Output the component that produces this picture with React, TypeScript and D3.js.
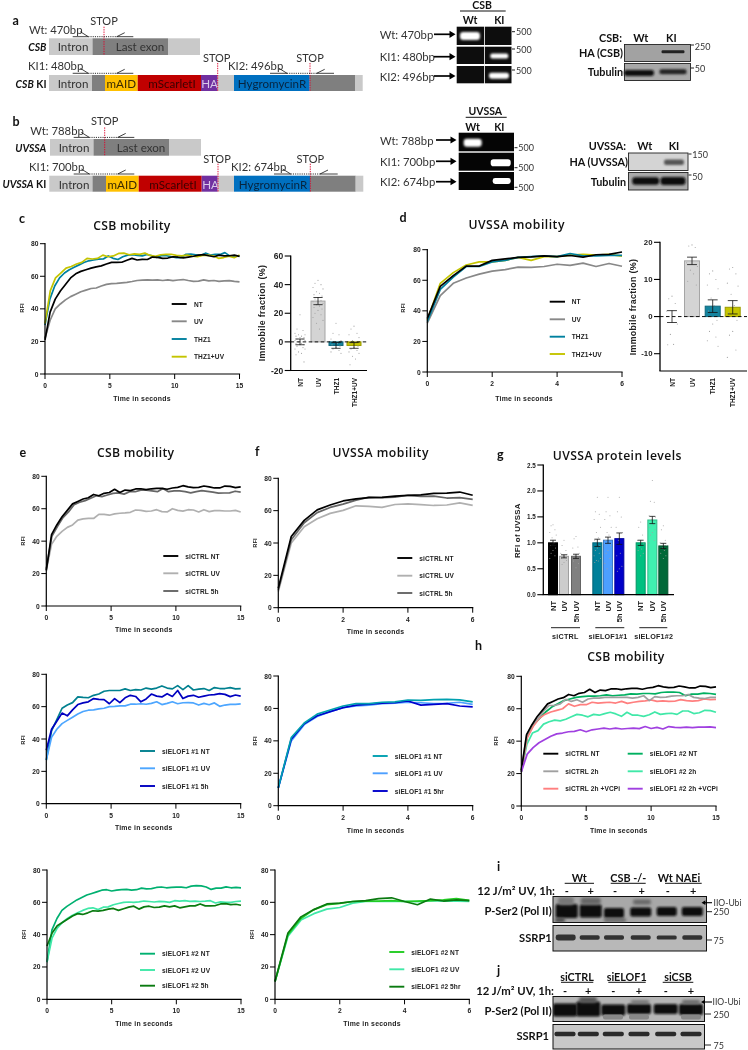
import React from 'react';
import * as d3 from 'd3';

const SANS = '"Liberation Sans", Arial, sans-serif';
const CAL = 'Lato, "Open Sans", sans-serif';

// ---------- panel c
const cNT = [21,38,46,51,55,59,61.5,63,64,65,65.8,66.4,67.5,68.5,68.5,68.6,69.8,71,70,70.4,70.3,71.8,71.6,71,71.2,72,71.7,71.3,71.8,72.3,73,73.3,72.6,72,73,72.5,72.6,73,72.2];
const cUV = [22,33,40,43,45.5,47.5,49,50.5,51.5,52.5,52.8,54,55,55.5,55.7,56,56.3,56.8,57.4,57.6,57.8,57.6,57.8,57.4,57.8,57.3,57.7,58,57.4,56.9,57,57.8,57.2,57.4,56.9,57.2,57.3,56.9,56.6];
const cTHZ = [30,46,54,59,62,64,65.5,67,68.5,69.5,70,70.5,70.6,72.5,71,70.3,72,73,73.2,72.8,72.5,73.4,72.5,71.5,72.8,72.6,72,71.5,71.5,73.5,73.6,73.2,72.8,74.2,73,73.5,73.4,74.5,72.5,72.6,72.4];
const cTU = [31,51,59,62,65,66,67.5,68.5,71,70.6,71,73,72,72.5,74,74.2,73.2,73.8,73.4,74.2,72.8,72.2,73.2,73.4,73.5,72.8,72.5,73,72.4,72,72.8,73,72.6,71,71.5,72.4,71.4,73];
// ---------- panel d
const dNT = [35,56,63,69.3,69.3,73,74,75,75.3,76,75.5,76.2,75.2,76.7,76.9,78.5];
const dUV = [32,50,58,61.5,64,66,67,68.6,68.4,69,70.5,69.7,71.2,69,71,69.2];
const dTHZ = [33,54,62,69,69,72,73,75,75.5,76,75.5,77.5,76,76,76.3,76.3];
const dTU = [34,58,65,70,72,72,73,75,73,75.5,75.5,76.5,77,76.5,77,75.8];
// ---------- panel e
const e1NT = [22,44,50,55,59,63,64.5,66,66.8,68.8,68,69.5,70,72,70,71.5,71.2,72.2,72.3,71.8,72.3,72.5,72.6,72,72.8,73.2,74.2,73.5,73,73.2,74,73.5,72.8,72.8,74,73.8,73,73.5];
const e1UV = [22,38,43,46,48.5,50,53,53.7,54,54,56.5,56.5,56,56.8,57.2,57.4,57.8,59.2,59,58.4,58.6,59.4,58.2,58,60,59,58.5,59.4,59.2,58,59.4,58.2,58.8,58.8,58.6,58.6,59,58];
const e15h = [23,43,49,54.5,58,62.5,64,65,66.5,68,67.5,68.5,69.5,69.8,69,70.5,70.5,71.5,71.5,71,70.5,72.5,70.5,71,71,70.5,69.8,70.5,71.2,70.7,70.2,69.6,69.7,69.8,70.8,70.2];
const e2NT = [27,45,52,59,61,62.5,66,65.7,65.5,67,67.8,69.5,70,70,70,71,70,70.5,70.3,71.5,70.8,71.5,72.8,71.5,71,73,70.5,73,70.3,70.8,71.2,70,71.8,71.2,71.2,71.8,71,71.2];
const e2UV = [27,41,46,49.5,51.5,53.5,55.5,57,57.8,58,58.6,59,60,60.2,60.5,60.5,61.5,61.5,61.8,61.5,62,63,61.3,62,63,61.8,62.4,62.5,62.3,61,62,61.2,62.3,60.2,61,61.4,61.4,61.7];
const e25h = [33,46,51,56,54.3,58,61.3,62.3,63,65,64.5,64.3,61.8,65,62.5,65.5,67,66.3,63,64.8,67.8,66.5,66,68,66.3,70,65,66.5,67,65.8,66.5,67.2,67.4,68,67.6,66.2,67.2,66.5];
const e3NT = [23,43,50,55,57.5,59.5,61.5,63,64.5,65.5,66.5,67.5,67.8,67,67.5,67.8,68,67.6,67.8,68.8,68.3,68.5,69.2,69.5,69,69.2,69.4,69.4,69,70,70.3,70.2,69.5,68,68.8,68.8,69.6,69,69.2,68.9];
const e3UV = [23,38,44,47.5,50,52,53.5,55,56.2,56.6,55.5,57,57.2,58.5,59.3,60,60.2,60,60.3,60.8,60.5,60.2,60.6,60.4,60,61,60.8,61,60.6,60.8,60.5,60.7,61,59.6,60.3,60,60,60.5,60.8];
const e35h = [33,41,45.5,47.5,49.5,51.5,53,52.5,53.5,54.8,54.6,55,55.8,56.2,55,56,57,57.6,55.8,57.2,57.6,56.8,57,57.8,57.2,57.8,56.6,57.2,57.8,57.8,59,57.8,57.8,58,59,59.2,58.6,58.8,58.2];
// ---------- panel f
const f1NT = [12,44,54,60.5,63.5,66,67.3,68,68.2,69,69.5,69.8,70.7,70.8,71.5,69.5];
const f1UV = [10,40,50,55,58.3,60.2,63,62.7,62,63.8,64.2,63.7,63.2,63.5,64.8,63.3];
const f15h = [11,42,52.5,58.8,62,64,66.5,68.4,68,68.3,69.5,68.8,69,67.8,68,67];
const f2NT = [11,42,51,56.5,59,61.5,63,63,63.8,64,65.2,65,65.4,65.6,65.3,64];
const f2UV = [11,40,50,55,58,60.5,61.5,62,63,63.2,63.8,63.5,63,63.2,63.8,62.5];
const f25h = [11,41,50.5,55.5,58,60.5,62,62.7,63.3,63.5,64.6,62,62.5,63,61.5,61];
const f3NT = [11,40,50,55.5,58.5,59.3,60.5,60.8,60.7,61,60.5,60.8,61,61.5,62.3,61.2];
const f3UV = [11,39,49,53,55.8,56.8,59.5,60.5,60.5,60.6,60.6,60.4,61,60.8,60.8,60.5];
const f35h = [11,41,51,55.5,59,59.5,60.5,61,62.3,62.8,60.5,58.5,62,60.8,61.5,61];
// ---------- panel h
const h2h = [22,44,50,54,58.5,62,62,63,65.8,64.5,65.5,64,66,66.5,66.5,67,67,67,67,67,66.5,67,68,65,67.5,67,67.2,67.8,68,68,68.8,67,66.5,66.3,67,67];
const hVCP = [21,42,49,54,56.5,58,59,60,63,61.5,62.5,62.5,64,63.5,63.8,64,63.5,64.5,63.3,64,64.5,64.8,65.5,64.5,64.8,64.5,64.6,65.6,65,64.7,65,66,65.6,65.8];
const hE2NT = [21,43,50,54,58,61,63,65,66,67,67.5,67.8,67.8,68,68.5,68,68.3,68.5,69.2,69,69.4,69.4,69.2,70,70.3,70.3,70,68,69,69,69.6,69.4,68.8];
const hE22h = [21,38,45,46.5,50.5,52,53,52.5,53.5,55,56.5,56,55,56.5,56,57,57.8,56.8,55.3,57.8,56,56,55.3,56.3,58,56.5,57,57.2,56.5,58.6,58.6,57,57.5,59,58.8,57.8];
const hE2VCP = [21,32,36,39,41,43,44.5,45,45.8,46,47,45.8,47,47.5,48,47.5,48,47.5,47.8,48,47.7,49,47.8,48.5,47.5,49,48.5,48.4,48.6,48.4,48.6,48.7,48.8,48.4];

// ---------- bar panels
const cBarNames = ['NT','UV','THZ1','THZ1+UV'];
const cBarMeans = [0,28.5,-2.5,-2.5];
const cBarSem = [2,2.5,2,2];
const cBarFill = ['#d8d8d8','#d4d4d4','#14849f','#c6c600'];
const cDots = [
  [19,9,8,6,5,5,4,4,3,3,2,2,1,1,0,-1,-1,-2,-2,-3,-4,-5,-5,-7,-8,-9,-14],
  [43,41,40,38,37,35,34,33,32,31,30,29,28,27,26,25,24,23,22,20,19,17,15,13,9],
  [13,6,5,2,1,0,-1,-2,-3,-4,-5,-6,-7,-8,-20],
  [11,9,6,5,3,1,0,-1,-3,-4,-5,-6,-7,-8,-10,-12,-16],
];
const dBarMeans = [0,15,2.8,2.5];
const dBarSem = [1.6,1,1.7,1.8];
const dBarFill = ['#fff','#d4d4d4','#14849f','#c6c600'];
const dDots = [
  [5.5,4.8,3.5,1.5,-2,-4.8,-7.5,-7.6],
  [19.3,19,18.6,14.5,13.5,12.5,11.5,9.5,8.5],
  [12.3,11.5,10,8.5,7.5,5,3,1.5,-1,-2,-4,-5.5,-6.5,-8],
  [13.2,12.8,11.5,9,8.2,6,3,1,-1,-4,-5,-9,-11],
];
const gNames = ['NT','UV','5h UV','NT','UV','5h UV','NT','UV','5h UV'];
const gMeans = [1,0.74,0.74,1,1.05,1.08,1,1.44,0.94];
const gSem = [0.05,0.03,0.04,0.07,0.06,0.11,0.05,0.07,0.05];
const gFill = ['#000','#cccccc','#808080','#00809a','#4d9fff','#0000c8','#00c080','#40f0b0','#006838'];
const gDots = [
  [1.35,1.33,1.25,1.2,1.15,1.1,1,0.95,0.9,0.85,0.8,0.75,0.7],
  [1.05,0.95,0.85,0.8,0.78,0.75,0.72,0.7,0.66,0.62,0.58],
  [1.12,1.08,0.92,0.9,0.8,0.75,0.72,0.65,0.6,0.52],
  [1.88,1.6,1.55,1.45,1.3,1.2,1.1,1.05,0.95,0.9,0.85,0.8,0.75,0.7,0.66,0.65,0.62],
  [1.88,1.6,1.52,1.45,1.3,1.2,1.15,1.05,0.95,0.85,0.8,0.7,0.6,0.55,0.5],
  [1.88,1.6,1.5,1.3,1.2,1.05,0.8,0.75,0.55,0.5,0.45],
  [1.4,1.3,1.15,1.05,0.98,0.92,0.88,0.85,0.8,0.75],
  [2.2,1.8,1.78,1.52,1.5,1.45,1.35,1.3,1.25,1.2,1.15,1.05,1],
  [1.33,1.25,1.05,1,0.95,0.9,0.85,0.8,0.75,0.7],
];

// ---------- schematic
const rowSegs = ['#c9c9c9','#7f7f7f','#ffc000','#c00000','#7030a0','#c9c9c9','#0070c0','#7f7f7f','#c9c9c9'];
const aEdges = [49,92,105,137.7,201,217.6,234,309.7,355,362.7];
const bEdges = [49.3,92.5,106,138.7,201.7,217.7,234,310,355.7,363.3];

const Txt = ({x,y,t,s=7,w='bold',a='start',f=SANS,c='#000',i,ls,rot}:any) => (
  <text x={x} y={y} fontSize={s} fontWeight={w} textAnchor={a} fontFamily={f} fill={c} dominantBaseline="central"
    fontStyle={i?'italic':undefined} letterSpacing={ls} transform={rot?`rotate(${rot} ${x} ${y})`:undefined}>{t}</text>
);

const LineChart = ({x0,x1,y80,y0,xMax,xTicks,series,legend,lx,ly,tx,ty,rx,ry}:any) => {
  const x = d3.scaleLinear().domain([0,xMax]).range([x0,x1]);
  const y = d3.scaleLinear().domain([0,80]).range([y0,y80]);
  return (
    <g>
      {series.map((s:any,i:number)=>{
        const line = d3.line<number>().x((_,k)=>x(k*xMax/(s.v.length-1))).y(d=>y(d));
        return <path key={i} d={line(s.v)!} fill="none" stroke={s.c} strokeWidth={1.7} strokeLinejoin="round"/>;
      })}
      <line x1={x0} x2={x0} y1={y80-0.6} y2={y0} stroke="#000" strokeWidth={1.2}/>
      <line x1={x0-0.6} x2={x1+0.6} y1={y0} y2={y0} stroke="#000" strokeWidth={1.2}/>
      {y.ticks(4).map(t=>(
        <g key={t}>
          <line x1={x0-5} x2={x0} y1={y(t)} y2={y(t)} stroke="#000" strokeWidth={1}/>
          <Txt x={x0-6.5} y={y(t)} t={t} s={6.7} a="end" c="#222"/>
        </g>
      ))}
      {xTicks.map((t:number)=>(
        <g key={t}>
          <line x1={x(t)} x2={x(t)} y1={y0} y2={y0+5} stroke="#000" strokeWidth={1}/>
          <Txt x={x(t)} y={y0+11.5} t={t} s={6.7} a="middle" c="#222"/>
        </g>
      ))}
      <Txt x={tx} y={ty} t="Time in seconds" s={6.9} a="middle" c="#222" ls={0.25}/>
      <Txt x={rx} y={ry} t="RFI" s={5.8} a="middle" c="#222" rot={-90}/>
      {legend.map((l:any,i:number)=>(
        <g key={i}>
          <line x1={l.lx??lx} x2={(l.lx??lx)+15} y1={l.y} y2={l.y} stroke={series[i].c} strokeWidth={1.9}/>
          <Txt x={(l.lx??lx)+22} y={l.y} t={l.t} s={6.55} c="#222" ls={0.12}/>
        </g>
      ))}
    </g>
  );
};

const jit = [0,-3,3,-5,5,-1.5,1.5,-4,4];

const BarPanel = ({ax,y,ticks,bottom,xs,w,means,sem,fill,dots,right,ylab,ylabX,ylabY,ylabS,dash,fmt,lblS=8.5,dotR=0.55,bw=1}:any) => (
  <g>
    {means.map((m:number,i:number)=>(
      <rect key={i} x={xs[i]-w/2} y={Math.min(y(m),y(0))} width={w} height={Math.abs(y(m)-y(0))} fill={fill[i]} stroke={fill[i]==='#000'?'#000':d3.color(fill[i])!.darker(0.7).formatHex()} strokeWidth={bw}/>
    ))}
    {dots.map((d:number[],i:number)=>d.map((v,k)=>(
      <circle key={`${i}-${k}`} cx={xs[i]+jit[k%jit.length]*(w/14)} cy={y(v)} r={dotR} fill="#a0a0a0"/>
    )))}
    {means.map((m:number,i:number)=>(
      <g key={i} stroke="#111" strokeWidth={0.8}>
        <line x1={xs[i]} x2={xs[i]} y1={y(m+sem[i])} y2={y(m-sem[i])}/>
        <line x1={xs[i]-w*0.33} x2={xs[i]+w*0.33} y1={y(m+sem[i])} y2={y(m+sem[i])}/>
        <line x1={xs[i]-w*0.33} x2={xs[i]+w*0.33} y1={y(m-sem[i])} y2={y(m-sem[i])}/>
      </g>
    ))}
    {dash && <line x1={ax} x2={right} y1={y(0)} y2={y(0)} stroke="#111" strokeWidth={1} strokeDasharray="3.5 2.5"/>}
    <line x1={ax} x2={ax} y1={y(ticks[ticks.length-1])-0.6} y2={bottom} stroke="#000" strokeWidth={1.3}/>
    <line x1={ax-0.6} x2={right} y1={bottom} y2={bottom} stroke="#000" strokeWidth={1.2}/>
    {ticks.map((t:number)=>(
      <g key={t}>
        <line x1={ax-6} x2={ax} y1={y(t)} y2={y(t)} stroke="#000" strokeWidth={1.1}/>
        <Txt x={ax-7.5} y={y(t)} t={fmt?fmt(t):t} s={lblS} a="end" c="#222"/>
      </g>
    ))}
    <Txt x={ylabX} y={ylabY} t={ylab} s={ylabS} a="middle" c="#222" rot={-90} ls={0.3}/>
  </g>
);

const Primer = ({x1,x2,x3,x4,y}:any) => (
  <g stroke="#111" fill="none">
    <line x1={x1} x2={x2} y1={y} y2={y} strokeWidth={0.8}/>
    <line x1={x2} x2={x2-8} y1={y} y2={y-5} strokeWidth={0.8}/>
    <line x1={x2} x2={x3} y1={y} y2={y} strokeWidth={0.9} strokeDasharray="1.1 1.1"/>
    <line x1={x3} x2={x4} y1={y} y2={y} strokeWidth={0.8}/>
    <line x1={x3} x2={x3+8} y1={y} y2={y-4} strokeWidth={0.8}/>
  </g>
);
const Stop = ({x,y1,y2}:any)=><line x1={x} x2={x} y1={y1} y2={y2} stroke="#e0002a" strokeWidth={0.9} strokeDasharray="1.4 1"/>;
const C = (p:any)=><Txt f={CAL} w="normal" s={11.6} c="#333" {...p}/>;

const Schematic = ({dy,dx,edges,wt,wtx,kin,kinx,kin2,kin2x,name,namex,kiname,r2y,stop1,stopHA,stopH,p2}:any)=>{
  const y1 = 38.3+dy, y2 = r2y;
  return (
    <g>
      <rect x={49+dx} y={y1} width={43.5} height={16.7} fill="#c9c9c9"/>
      <rect x={92.5+dx} y={y1} width={75.5} height={16.7} fill="#7f7f7f"/>
      <rect x={168+dx} y={y1} width={32} height={16.7} fill="#c9c9c9"/>
      {rowSegs.map((c,i)=><rect key={i} x={edges[i]} y={y2} width={edges[i+1]-edges[i]} height={16} fill={c}/>)}
      <C x={73+dx} y={y1+8.5} t="Intron" a="middle"/>
      <C x={140+dx} y={y1+8.5} t="Last exon" a="middle"/>
      <C x={73+dx} y={y2+8.5} t="Intron" a="middle"/>
      <C x={121.3+dx} y={y2+8.5} t="mAID" a="middle" c="#3a2a00"/>
      <C x={172+dx} y={y2+8.5} t="mScarletI" a="middle" c="#3a0000"/>
      <C x={209.5+dx} y={y2+8.5} t="HA" a="middle" c="#d8c8e8"/>
      <C x={272+dx} y={y2+8.5} t="HygromycinR" a="middle" c="#06243f"/>
      <Stop x={stop1} y1={26.7+dy} y2={y1+16.7}/>
      <Stop x={stopHA} y1={y2-12} y2={y2+16}/>
      <Stop x={stopH} y1={y2-12} y2={y2+16}/>
      <C x={stop1} y={20+dy} t="STOP" a="middle" s={11}/>
      <C x={stopHA-1} y={y2-17.5} t="STOP" a="middle" s={11}/>
      <C x={stopH} y={y2-17.5} t="STOP" a="middle" s={11}/>
      <C x={wtx} y={29.3+dy} t={wt} s={11.3}/>
      <C x={kinx} y={y2-9.3} t={kin} s={11.3}/>
      <C x={kin2x} y={y2-9.3} t={kin2} s={11.3}/>
      <Txt x={namex} y={y1+8.7} t={name} s={10.4} f={CAL} a="end" i c="#111"/>
      <g>
        <text x={namex} y={y2+8.7} fontFamily={CAL} fontSize={10.4} fontWeight="bold" textAnchor="end" dominantBaseline="central" fill="#111">
          <tspan fontStyle="italic">{kiname}</tspan> KI
        </text>
      </g>
      <Primer x1={72.7+dx} x2={88.3+dx} x3={116.7+dx} x4={133.3+dx} y={36.7+dy}/>
      <Primer x1={72.7+dx} x2={88.3+dx} x3={116.7+dx} x4={133.3+dx} y={y2-1.7}/>
      <Primer x1={p2[0]} x2={p2[1]} x3={p2[2]} x4={p2[3]} y={y2-1.7}/>
    </g>
  );
};

const Band = ({x,y,w,h,c='#111',o=1,f='b1',rx}:any)=><rect x={x-w/2} y={y-h/2} width={w} height={h} rx={rx??h/2.5} fill={c} opacity={o} filter={`url(#${f})`}/>;

const Arrow = ({x1,x2,y,hs=1}:any)=>{
  const dir = x2>x1?1:-1;
  return (
    <g>
      <line x1={x1} x2={x2-dir*5*hs} y1={y} y2={y} stroke="#000" strokeWidth={1.7*hs}/>
      <path d={`M${x2},${y} L${x2-dir*6*hs},${y-3.6*hs} L${x2-dir*6*hs},${y+3.6*hs} Z`} fill="#000"/>
    </g>
  );
};

const csbGelRows = [[26.7,45],[46.7,64],[66,83.3]];
const csbBands = [[470,36,20,8],[499.3,56,18,5],[499,75.7,20,6]];
const uvGelRows = [[132.7,151.3],[152.7,170.7],[172,190]];
const uvBands = [[472.7,142.7,18,8],[500.7,162.7,20,7],[501.7,181,18,6]];
const csbGelLabels = ['Wt: 470bp','KI1: 480bp','KI2: 496bp'];
const uvGelLabels = ['Wt: 788bp','KI1: 700bp','KI2: 674bp'];
const csbLabelY = [34.3,56.7,76];
const uvLabelY = [140,161.3,181.7];
const csb500Y = [31.7,49,70];
const uv500Y = [147.7,167.7,187.3];

const iSign = [566.7,590.7,615,641.7,667.7,693.3];
const jSign = [565,588.3,613.3,639,665.7,691];
const signs = ['-','+','-','+','-','+'];
const iGroups = [['Wt',579.3,564.7,594],['CSB -/-',628.3,610.7,645.7],['Wt NAEi',679,665,701.7]];
const jGroups = [['siCTRL',577,561,593.3],['siELOF1',626.7,608.3,645.7],['siCSB',678,662.7,693.3]];

export default function App(){
  const c15 = [0,5,10,15], c6 = [0,2,4,6];
  const cY = d3.scaleLinear().domain([-20,60]).range([370.5,256]);
  const dY = d3.scaleLinear().domain([-10,20]).range([353.7,242.3]);
  const gY = d3.scaleLinear().domain([0,2.5]).range([594.7,465]);
  const gX = [189,222,258,322,354,388,452,487,520].map(v=>490+v/3);
  const P = ({x,y,t}:any)=><Txt x={x} y={y} t={t} s={12.5} f={CAL} c="#111"/>;
  const T = ({x,y,t,ls=0.5}:any)=><Txt x={x} y={y} t={t} s={12.2} f={'"Open Sans", sans-serif'} w={600} a="middle" c="#111" ls={ls}/>;
  const G = (p:any)=><Txt f={CAL} s={10.8} c="#111" {...p}/>;
  const Mw = (p:any)=><Txt f={CAL} w="normal" s={9} c="#333" {...p}/>;
  return (
    <svg width={748} height={1050} viewBox="0 0 748 1050" style={{position:'absolute',left:0,top:0,background:'#fff',filter:'blur(0.4px)'}}>
      <defs>
        <filter id="b1" x="-40%" y="-80%" width="180%" height="260%"><feGaussianBlur stdDeviation="1"/></filter>
        <filter id="b2" x="-40%" y="-100%" width="180%" height="300%"><feGaussianBlur stdDeviation="1.8"/></filter>
        <filter id="b05" x="-40%" y="-80%" width="180%" height="260%"><feGaussianBlur stdDeviation="0.6"/></filter>
      </defs>

      {/* a, b */}
      <P x={12.5} y={20} t="a"/><P x={12.5} y={121} t="b"/>
      <Schematic dy={0} dx={0} edges={aEdges} r2y={75} wt="Wt: 470bp" wtx={29} kin="KI1: 480bp" kinx={28} kin2="KI2: 496bp" kin2x={228} name="CSB" namex={46.5} kiname="CSB" stop1={104} stopHA={217.7} stopH={310} p2={[270,287,316.7,334]}/>
      <Schematic dy={100.7} dx={1} edges={bEdges} r2y={175.7} wt="Wt: 788bp" wtx={30.3} kin="KI1: 700bp" kinx={29} kin2="KI2: 674bp" kin2x={231} name="UVSSA" namex={46.3} kiname="UVSSA" stop1={104.7} stopHA={218} stopH={310.3} p2={[274,290.7,320,337.7]}/>

      {/* CSB PCR */}
      <G x={482} y={4.5} t="CSB" a="middle" s={10.5}/>
      <line x1={460} x2={505.7} y1={11} y2={11} stroke="#111" strokeWidth={1}/>
      <G x={470} y={20} t="Wt" a="middle" s={10.5}/><G x={499.3} y={20} t="KI" a="middle" s={10.5}/>
      {csbGelRows.map((r,i)=>(
        <g key={i}>
          <rect x={456.7} y={r[0]} width={27.5} height={r[1]-r[0]} fill="#0d0d0d"/>
          <rect x={485} y={r[0]} width={26.5} height={r[1]-r[0]} fill="#0d0d0d"/>
          <Band x={csbBands[i][0]} y={csbBands[i][1]} w={csbBands[i][2]} h={csbBands[i][3]} c="#fff"/>
          <C x={379.7} y={csbLabelY[i]} t={csbGelLabels[i]} s={11.3}/>
          <Arrow x1={434} x2={455.5} y={csbLabelY[i]}/>
          <line x1={512} x2={515} y1={csb500Y[i]} y2={csb500Y[i]} stroke="#222"/>
          <Mw x={516} y={csb500Y[i]} t="500"/>
        </g>
      ))}

      {/* UVSSA PCR */}
      <G x={485.3} y={110.7} t="UVSSA" a="middle" s={10.5}/>
      <line x1={465.7} x2={506.7} y1={117.3} y2={117.3} stroke="#111" strokeWidth={1}/>
      <G x={472.7} y={126.7} t="Wt" a="middle" s={10.5}/><G x={499.3} y={126.7} t="KI" a="middle" s={10.5}/>
      {uvGelRows.map((r,i)=>(
        <g key={i}>
          <rect x={458.7} y={r[0]} width={55.3} height={r[1]-r[0]} fill="#050505"/>
          <Band x={uvBands[i][0]} y={uvBands[i][1]} w={uvBands[i][2]} h={uvBands[i][3]} c="#fff" f={i?'b05':'b1'}/>
          <C x={380} y={uvLabelY[i]} t={uvGelLabels[i]} s={11.3}/>
          <Arrow x1={436} x2={456.5} y={uvLabelY[i]}/>
          <line x1={514.5} x2={517.5} y1={uv500Y[i]} y2={uv500Y[i]} stroke="#222"/>
          <Mw x={518.3} y={uv500Y[i]} t="500"/>
        </g>
      ))}

      {/* CSB western */}
      <G x={622} y={37} t="CSB:" a="end"/><G x={640.7} y={37} t="Wt" a="middle"/><G x={671.3} y={37} t="KI" a="middle"/>
      <rect x={624.5} y={44.5} width={66} height={17} fill="#a2a2a2" stroke="#222" strokeWidth={0.9}/>
      <Band x={673} y={51.7} w={23} h={3} c="#222" f="b05"/>
      <rect x={624.5} y={63.5} width={66} height={17} fill="#a8a8a8" stroke="#222" strokeWidth={0.9}/>
      <Band x={639} y={73} w={30} h={6} c="#111"/><Band x={673} y={71.7} w={27} h={5} c="#222"/>
      <G x={623} y={52.7} t="HA (CSB)" a="end"/><G x={623} y={71.3} t="Tubulin" a="end"/>
      <line x1={691} x2={694} y1={45} y2={45} stroke="#222"/><Mw x={694.7} y={46} t="250"/>
      <line x1={691} x2={694} y1={68} y2={68} stroke="#222"/><Mw x={694.7} y={68} t="50"/>

      {/* UVSSA western */}
      <G x={626} y={145.7} t="UVSSA:" a="end"/><G x={644.7} y={145.7} t="Wt" a="middle"/><G x={674} y={145.7} t="KI" a="middle"/>
      <rect x={628.5} y={153} width={59.5} height={17.5} fill="#d4d4d4" stroke="#222" strokeWidth={0.9}/>
      <Band x={674} y={162.3} w={20} h={5.5} c="#555"/>
      <rect x={628.5} y={172.5} width={59.5} height={17.5} fill="#aaa" stroke="#222" strokeWidth={0.9}/>
      <Band x={645.7} y={181} w={27} h={7.5} c="#111"/><Band x={673} y={181} w={25} h={8} c="#111"/>
      <G x={628} y={161.7} t="HA (UVSSA)" a="end"/><G x={626} y={181} t="Tubulin" a="end"/>
      <line x1={688.5} x2={691.5} y1={154} y2={154} stroke="#222"/><Mw x={692.3} y={154.3} t="150"/>
      <line x1={688.5} x2={691.5} y1={175} y2={175} stroke="#222"/><Mw x={692.3} y={176.7} t="50"/>

      {/* c */}
      <P x={19} y={218} t="c"/>
      <T x={132} y={225} t="CSB mobility" ls={0.3}/>
      <LineChart x0={45} x1={239.5} y80={243.7} y0={374} xMax={15} xTicks={c15}
        series={[{v:cTHZ,c:'#00809f'},{v:cUV,c:'#888'},{v:cTU,c:'#c4c400'},{v:cNT,c:'#000'}]}
        legend={[]} tx={142} ty={398} rx={22} ry={308}/>
      {[['NT','#000'],['UV','#888'],['THZ1','#00809f'],['THZ1+UV','#c4c400']].map((l,i)=>(
        <g key={i}>
          <line x1={171.7} x2={186.7} y1={[304,321.3,339,356.7][i]} y2={[304,321.3,339,356.7][i]} stroke={l[1]} strokeWidth={1.9}/>
          <Txt x={194} y={[304,321.3,339,356.7][i]} t={l[0]} s={6.55} c="#222" ls={0.12}/>
        </g>
      ))}
      <BarPanel ax={290.7} y={cY} ticks={[-20,0,20,40,60]} bottom={370.5} xs={[300,318,336,354]} w={14} means={cBarMeans} sem={cBarSem} fill={cBarFill} dots={cDots} right={367} ylab="Immobile fraction (%)" ylabX={261.5} ylabY={313} ylabS={8.9} dash/>
      {cBarNames.map((n,i)=><Txt key={n} x={[300,318,336,354][i]} y={378} t={n} s={6.5} a="end" c="#222" rot={-90}/>)}

      {/* d */}
      <P x={399.5} y={217} t="d"/>
      <T x={516.7} y={224.3} t="UVSSA mobility"/>
      <LineChart x0={427.3} x1={622} y80={249.7} y0={372} xMax={6} xTicks={c6}
        series={[{v:dUV,c:'#888'},{v:dTU,c:'#c4c400'},{v:dTHZ,c:'#00809f'},{v:dNT,c:'#000'}]}
        legend={[]} tx={524} ty={398} rx={403} ry={308}/>
      {[['NT','#000'],['UV','#888'],['THZ1','#00809f'],['THZ1+UV','#c4c400']].map((l,i)=>(
        <g key={i}>
          <line x1={549.7} x2={565} y1={[301.7,319.3,336.7,354][i]} y2={[301.7,319.3,336.7,354][i]} stroke={l[1]} strokeWidth={1.9}/>
          <Txt x={571.7} y={[301.7,319.3,336.7,354][i]} t={l[0]} s={6.55} c="#222" ls={0.12}/>
        </g>
      ))}
      <BarPanel ax={660} y={dY} ticks={[-10,0,10,20]} bottom={371} xs={[672,692,712.7,732.7]} w={15} means={dBarMeans} sem={dBarSem} fill={dBarFill} dots={dDots} right={747} ylab="Immobile fraction (%)" ylabX={633.3} ylabY={307} ylabS={8.9} dash lblS={7.8}/>
      {cBarNames.map((n,i)=><Txt key={n} x={[672,692,712.7,732.7][i]} y={378} t={n} s={6.5} a="end" c="#222" rot={-90}/>)}

      {/* e */}
      <P x={19.5} y={452} t="e"/>
      <T x={135.7} y={452.7} t="CSB mobility" ls={0.3}/>
      <LineChart x0={46.3} x1={240.7} y80={476.3} y0={606} xMax={15} xTicks={c15}
        series={[{v:e1UV,c:'#b0b0b0'},{v:e15h,c:'#666'},{v:e1NT,c:'#000'}]}
        legend={[{t:'siCTRL UV',y:573.3},{t:'siCTRL 5h',y:591},{t:'siCTRL NT',y:556}]} lx={163.3} tx={143.7} ty={629} rx={23} ry={541}/>
      <LineChart x0={46.3} x1={240.7} y80={674.3} y0={803.7} xMax={15} xTicks={c15}
        series={[{v:e2NT,c:'#00808f'},{v:e2UV,c:'#4da6ff'},{v:e25h,c:'#0000c0'}]}
        legend={[{t:'siELOF1 #1 NT',y:751},{t:'siELOF1 #1 UV',y:768.3},{t:'siELOF1 #1 5h',y:786}]} lx={140} tx={143.7} ty={827.7} rx={23} ry={740}/>
      <LineChart x0={47} x1={241} y80={870} y0={999.3} xMax={15} xTicks={c15}
        series={[{v:e3NT,c:'#00b070'},{v:e3UV,c:'#40e8a8'},{v:e35h,c:'#0a7a10'}]}
        legend={[{t:'siELOF1 #2 NT',y:953.7},{t:'siELOF1 #2 UV',y:970},{t:'siELOF1 #2 5h',y:985.7}]} lx={140} tx={144} ty={1023.3} rx={23.5} ry={934.5}/>

      {/* f */}
      <P x={255} y={451} t="f"/>
      <T x={380.7} y={452.7} t="UVSSA mobility"/>
      <LineChart x0={278.3} x1={472.7} y80={478.3} y0={607.7} xMax={6} xTicks={c6}
        series={[{v:f1UV,c:'#b0b0b0'},{v:f15h,c:'#666'},{v:f1NT,c:'#000'}]}
        legend={[{t:'siCTRL UV',y:575.7},{t:'siCTRL 5h',y:593},{t:'siCTRL NT',y:558}]} lx={397.3} tx={375.5} ty={631} rx={255} ry={543}/>
      <LineChart x0={278.3} x1={472.7} y80={676} y0={805.7} xMax={6} xTicks={c6}
        series={[{v:f2UV,c:'#4d9fff'},{v:f25h,c:'#0000cc'},{v:f2NT,c:'#00a0b0'}]}
        legend={[{t:'siELOF1 #1 UV',y:773.3},{t:'siELOF1 #1 5hr',y:791},{t:'siELOF1 #1 NT',y:756}]} lx={372.7} tx={375.5} ty={830} rx={255} ry={741}/>
      <LineChart x0={275} x1={469.3} y80={870} y0={999.3} xMax={6} xTicks={c6}
        series={[{v:f3UV,c:'#40e8a8'},{v:f3NT,c:'#22cc22'},{v:f35h,c:'#0a7a10'}]}
        legend={[{t:'siELOF1 #2 UV',y:969.3},{t:'siELOF1 #2 NT',y:952},{t:'siELOF1 #2 5hr',y:986.7}]} lx={389.3} tx={372} ty={1023.3} rx={251.5} ry={934.5}/>

      {/* g */}
      <P x={497} y={454} t="g"/>
      <T x={617.3} y={455} t="UVSSA protein levels" ls={0.4}/>
      <BarPanel ax={543.3} y={gY} ticks={[0,0.5,1,1.5,2,2.5]} bottom={594.7} xs={gX} w={9} means={gMeans} sem={gSem} fill={gFill} dots={gDots} right={674} ylab="RFI of UVSSA" ylabX={517.3} ylabY={530.7} ylabS={7.8} fmt={(t:number)=>t.toFixed(1)} lblS={6.3} dotR={0.5} bw={1}/>
      {gNames.map((n,i)=><Txt key={i} x={gX[i]} y={601} t={n} s={7.5} a="end" c="#222" rot={-90}/>)}
      {[[551,580,565.3,'siCTRL'],[595.3,624.3,608,'siELOF1#1'],[639.3,667.3,653.7,'siELOF1#2']].map((r:any)=>(
        <g key={r[3]}>
          <line x1={r[0]} x2={r[1]} y1={627.7} y2={627.7} stroke="#222" strokeWidth={1}/>
          <Txt x={r[2]} y={636.7} t={r[3]} s={7.2} a="middle" c="#222" ls={0.2}/>
        </g>
      ))}

      {/* h */}
      <P x={475} y={645} t="h"/>
      <T x={626} y={656} t="CSB mobility" ls={0.3}/>
      <LineChart x0={521.3} x1={716} y80={676.3} y0={806} xMax={15} xTicks={c15}
        series={[{v:hE2NT,c:'#00b060'},{v:hE22h,c:'#40e8a8'},{v:hVCP,c:'#ff7f7f'},{v:h2h,c:'#a0a0a0'},{v:e1NT,c:'#000'},{v:hE2VCP,c:'#a040e0'}]}
        legend={[
          {t:'siELOF1 #2 NT',lx:627.7,y:753.7},{t:'siELOF1 #2 2h',lx:627.7,y:771.3},{t:'siCTRL 2h +VCPi',lx:543.3,y:788.7},
          {t:'siCTRL 2h',lx:543.3,y:771.3},{t:'siCTRL NT',lx:543.3,y:753.7},{t:'siELOF1 #2 2h +VCPi',lx:627.7,y:788.7}]}
        lx={0} tx={618.7} ty={830} rx={496} ry={741}/>

      {/* i */}
      <P x={497} y={866} t="i"/>
      {iGroups.map((g:any)=>(
        <g key={g[0]}>
          <G x={g[1]} y={877.3} t={g[0]} a="middle"/>
          <line x1={g[2]} x2={g[3]} y1={883.3} y2={883.3} stroke="#111" strokeWidth={1}/>
        </g>
      ))}
      <G x={555} y={890.7} t="12 J/m² UV, 1h:" a="end" s={11.3}/>
      {iSign.map((x,i)=><G key={i} x={x} y={890.7} t={signs[i]} a="middle" s={11}/>)}
      <clipPath id="ci1"><rect x={553} y={896.5} width={153.5} height={26}/></clipPath>
      <rect x={553} y={896.5} width={153.5} height={26} fill="#a8a8a8" stroke="#111" strokeWidth={1}/>
      <g clipPath="url(#ci1)">
        {iSign.map((x,i)=><Band key={i} x={x-1+(i<2?1:0)} y={[911,911,913,912,911.5,911.5][i]} w={[22,22,20,21,20,21][i]} h={[14,13,10,9,9,9][i]} c="#0a0a0a" f="b1" rx={2}/>)}
        <Band x={566} y={901} w={16} h={8} c="#777" f="b2"/><Band x={590.7} y={901} w={20} h={7} c="#666" f="b2"/>
        <Band x={642} y={902} w={18} h={5} c="#666" f="b2"/>
        <Band x={560} y={920} w={10} h={4} c="#444" f="b2"/><Band x={615} y={920} w={22} h={4} c="#666" f="b2"/>
      </g>
      <rect x={553} y={925.5} width={153.5} height={25.5} fill="#b8b8b8" stroke="#111" strokeWidth={1}/>
      {iSign.map((x,i)=><Band key={i} x={x-1} y={937.5} w={20} h={[6,4.5,4.5,4.5,4,4.5][i]} c="#333" f="b05"/>)}
      <G x={551.7} y={910} t="P-Ser2 (Pol II)" a="end" s={11.1}/>
      <G x={551.7} y={937} t="SSRP1" a="end" s={11.1}/>
      <Arrow x1={712} x2={701.5} y={902.7} hs={0.65}/>
      <Mw x={713.5} y={902.7} t="IIO-Ubi" s={8.6}/>
      <line x1={707} x2={712} y1={911.7} y2={911.7} stroke="#222"/><Mw x={713.5} y={911.7} t="250"/>
      <line x1={707} x2={712} y1={940} y2={940} stroke="#222"/><Mw x={713.5} y={940} t="75"/>

      {/* j */}
      <P x={497} y={970.6} t="j"/>
      {jGroups.map((g:any)=>(
        <g key={g[0]}>
          <G x={g[1]} y={976.7} t={g[0]} a="middle"/>
          <line x1={g[2]} x2={g[3]} y1={982.3} y2={982.3} stroke="#111" strokeWidth={1}/>
        </g>
      ))}
      <G x={554} y={990} t="12 J/m² UV, 1h:" a="end" s={11.3}/>
      {jSign.map((x,i)=><G key={i} x={x} y={990} t={signs[i]} a="middle" s={11}/>)}
      <clipPath id="cj1"><rect x={553} y={996.5} width={151.5} height={25}/></clipPath>
      <rect x={553} y={996.5} width={151.5} height={25} fill="#b5b5b5" stroke="#111" strokeWidth={1}/>
      <g clipPath="url(#cj1)">
        {jSign.map((x,i)=><Band key={i} x={x} y={[1010,1009,1010,1009,1009,1009.5][i]} w={24} h={[13,15,11,10,10,11][i]} c="#0a0a0a" f="b1" rx={2}/>)}
        <Band x={588} y={1000} w={18} h={6} c="#555" f="b2"/><Band x={640} y={1002} w={18} h={3} c="#666" f="b2"/><Band x={691} y={1002} w={18} h={4} c="#666" f="b2"/>
        <Band x={613} y={1017} w={20} h={5} c="#888" f="b05"/><Band x={639} y={1017} w={20} h={5} c="#888" f="b05"/><Band x={691} y={1017} w={20} h={5} c="#888" f="b05"/>
      </g>
      <rect x={553} y={1024.5} width={151.5} height={24.5} fill="#c8c8c8" stroke="#111" strokeWidth={1}/>
      {jSign.map((x,i)=><Band key={i} x={x} y={1034} w={21} h={4.5} c="#2a2a2a" f="b05"/>)}
      <G x={551.7} y={1010} t="P-Ser2 (Pol II)" a="end" s={11.1}/>
      <G x={549} y={1035.7} t="SSRP1" a="end" s={11.1}/>
      <Arrow x1={712} x2={701} y={1002} hs={0.65}/>
      <Mw x={712.5} y={1002} t="IIO-Ubi" s={8.6}/>
      <line x1={705} x2={711} y1={1014} y2={1014} stroke="#222"/><Mw x={713.5} y={1014} t="250"/>
      <line x1={705} x2={711} y1={1045} y2={1045} stroke="#222"/><Mw x={713.5} y={1045} t="75"/>
    </svg>
  );
}
